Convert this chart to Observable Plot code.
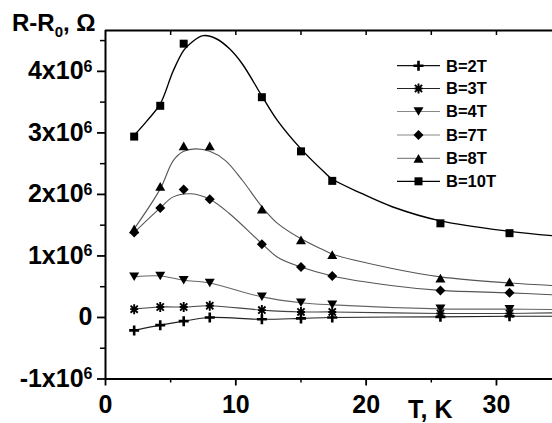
<!DOCTYPE html>
<html><head><meta charset="utf-8">
<script src="https://cdn.jsdelivr.net/npm/d3@7"></script>
<script src="https://cdn.jsdelivr.net/npm/@observablehq/plot@0.6"></script>
<style>
html,body{margin:0;padding:0;background:#fff;}
#chart{width:552px;height:423px;overflow:hidden;}
</style></head><body><div id="chart"></div>
<script>
// ---- data (resistance in units of 10^6 Ω) ----
const temps   = [2.2, 4.2, 6, 8, 12, 15, 17.4, 25.7, 31];
const temps10 = [2.2, 4.2, 6, 12, 15, 17.4, 25.7, 31];
const b2  = [-0.21, -0.125, -0.06, 0, -0.03, -0.015, 0, 0.01, 0.02];
const b3  = [0.135, 0.17, 0.17, 0.19, 0.12, 0.09, 0.09, 0.065, 0.065];
const b4  = [0.66, 0.675, 0.605, 0.56, 0.335, 0.24, 0.205, 0.14, 0.135];
const b7  = [1.38, 1.78, 2.08, 1.92, 1.19, 0.82, 0.675, 0.44, 0.40];
const b8  = [1.44, 2.13, 2.79, 2.79, 1.76, 1.26, 1.02, 0.64, 0.58];
const b10 = [2.94, 3.44, 4.45, 3.58, 2.70, 2.22, 1.53, 1.37];

// smooth fitted curves
const fitT10 = [2.2, 3.2, 4.2, 5.2, 6, 6.6, 7.5, 8.5, 9.5, 10.5, 12, 13.2, 15, 16.8, 17.4, 19.6, 22, 25.7, 31, 34.3];
const fit10  = [2.96, 3.2, 3.47, 4.01, 4.34, 4.47, 4.58, 4.53, 4.37, 4.12, 3.6, 3.2, 2.74, 2.36, 2.25, 2.02, 1.8, 1.57, 1.40, 1.33];
const fitT8  = [2.2, 4.2, 5.2, 6, 6.9, 8, 9.2, 10.5, 12, 13.2, 15, 16.8, 17.4, 21.9, 25.7, 31, 34.3];
const fit8   = [1.44, 2.09, 2.55, 2.70, 2.74, 2.70, 2.55, 2.23, 1.80, 1.53, 1.28, 1.09, 1.03, 0.80, 0.66, 0.56, 0.52];
const fitT7  = [2.2, 4.2, 5.2, 6.6, 8, 9.5, 12, 13.2, 15, 17.4, 21.9, 25.7, 31, 34.3];
const fit7   = [1.38, 1.78, 1.96, 2.01, 1.92, 1.69, 1.2, 0.98, 0.82, 0.675, 0.52, 0.44, 0.40, 0.37];
const lowEndT = 34.3;
const lowEnd  = [0.02, 0.075, 0.13]; // B=2,3,4 curve values at right edge

const labels = ["B=2T", "B=3T", "B=4T", "B=7T", "B=8T", "B=10T"];
const xTicks = [0, 10, 20, 30];
const xMinor = [5, 15, 25];
const xTop   = [5, 10, 15, 20, 25, 30];
const yTicks = [-1, 0, 1, 2, 3, 4];
const yMinor = [-0.5, 0.5, 1.5, 2.5, 3.5, 4.5];
const M = 1e6;

// ---- symbols ----
const rad = s => Math.sqrt(s / Math.PI);
const SYM = {
  plus: {draw(c, s){const r = rad(s); c.moveTo(-r,0); c.lineTo(r,0); c.moveTo(0,-r); c.lineTo(0,r);}},
  star: {draw(c, s){const r = rad(s), d = r*0.72; c.moveTo(0,-r); c.lineTo(0,r); c.moveTo(-r*0.8,0); c.lineTo(r*0.8,0);
                    c.moveTo(-d,-d); c.lineTo(d,d); c.moveTo(-d,d); c.lineTo(d,-d);}},
  tdown: {draw(c, s){const r = rad(s); c.moveTo(-r,-0.85*r); c.lineTo(r,-0.85*r); c.lineTo(0,0.85*r); c.closePath();}},
  diamond: {draw(c, s){const r = rad(s); c.moveTo(0,-r); c.lineTo(r,0); c.lineTo(0,r); c.lineTo(-r,0); c.closePath();}},
  tup: {draw(c, s){const r = rad(s); c.moveTo(0,-0.87*r); c.lineTo(r,0.87*r); c.lineTo(-r,0.87*r); c.closePath();}},
  square: {draw(c, s){const h = rad(s)*0.8; c.moveTo(-h,-h); c.lineTo(h,-h); c.lineTo(h,h); c.lineTo(-h,h); c.closePath();}}
};

const rows = (ts, vs) => ts.map((t, i) => ({T: t, v: vs[i] * M}));
const series = [
  {vals: b2,  ts: temps,   sym: SYM.plus,    stroke: true, sw: 2.6, line: "#222", leg: "#111", curve: rows([...temps, lowEndT], [...b2, lowEnd[0]])},
  {vals: b3,  ts: temps,   sym: SYM.star,    stroke: true, sw: 1.9, line: "#444", leg: "#222", curve: rows([...temps, lowEndT], [...b3, lowEnd[1]])},
  {vals: b4,  ts: temps,   sym: SYM.tdown,   line: "#666", leg: "#888", curve: rows([...temps, lowEndT], [...b4, lowEnd[2]])},
  {vals: b7,  ts: temps,   sym: SYM.diamond, line: "#555", leg: "#888", curve: rows(fitT7, fit7)},
  {vals: b8,  ts: temps,   sym: SYM.tup,     line: "#555", leg: "#888", curve: rows(fitT8, fit8)},
  {vals: b10, ts: temps10, sym: SYM.square,  line: "#000", leg: "#000", curve: rows(fitT10, fit10)}
];

const marks = [];
series.forEach((s, i) => {
  marks.push(Plot.line(s.curve, {x: "T", y: "v", curve: "catmull-rom", stroke: s.line, strokeWidth: i === 5 ? 1.4 : 1.1}));
});
series.forEach(s => {
  const d = rows(s.ts, s.vals);
  marks.push(s.stroke
    ? Plot.dot(d, {x: "T", y: "v", symbol: s.sym, r: 5, fill: "none", stroke: "#000", strokeWidth: s.sw})
    : Plot.dot(d, {x: "T", y: "v", symbol: s.sym, r: 5, fill: "#000", stroke: "none"}));
});

const plot = Plot.plot({
  width: 552, height: 423,
  marginLeft: 105, marginRight: 0, marginTop: 30, marginBottom: 44.5,
  style: {fontFamily: "'Liberation Sans', Arial, sans-serif", fontWeight: "bold", color: "#000", background: "#fff"},
  x: {domain: [0, 34.3]},
  y: {domain: [-1 * M, 4.664 * M]},
  marks: [
    ...marks,
    Plot.ruleX([0], {stroke: "#000", strokeWidth: 2}),
    Plot.ruleY([-1 * M, 4.664 * M], {stroke: "#000", strokeWidth: 2}),
    Plot.axisY(yTicks.map(d => d * M), {tickSize: 8, tickPadding: 5, strokeWidth: 1.8, fontSize: 25, label: null,
      tickFormat: d => d === 0 ? "0" : `${d / M}x10^6`}),
    Plot.axisY(yMinor.map(d => d * M), {tickSize: 5, strokeWidth: 1.5, tickFormat: () => "", label: null}),
    Plot.axisX(xTicks, {tickSize: 7, tickPadding: 9, strokeWidth: 1.8, fontSize: 25, label: null, tickFormat: d => String(d)}),
    Plot.axisX(xMinor, {tickSize: 4, strokeWidth: 1.5, tickFormat: () => "", label: null}),
    Plot.tickX(xTop, {stroke: "#000", strokeWidth: 1.5, insetBottom: 423 - 44.5 - 30 - 5})
  ]
});
document.getElementById("chart").appendChild(plot);

const svg = d3.select(plot);
// superscripts on y tick labels
svg.selectAll('g[aria-label="y-axis tick label"] text').each(function() {
  const t = this.textContent;
  if (t.includes("^")) {
    const [base, exp] = t.split("^");
    const el = d3.select(this);
    el.text("");
    el.append("tspan").text(base);
    el.append("tspan").attr("dy", "-0.47em").attr("font-size", 16).text(exp);
  }
});

// axis titles
const yt = svg.append("text").attr("x", 12).attr("y", 31).attr("text-anchor", "start")
  .attr("font-size", 24).attr("font-weight", "bold").attr("fill", "#000");
yt.append("tspan").text("R-R");
yt.append("tspan").attr("font-size", 15).attr("dy", 6).text("0");
yt.append("tspan").attr("dy", -6).text(", Ω");
svg.append("text").attr("x", 408).attr("y", 418).attr("text-anchor", "start")
  .attr("font-size", 25).attr("font-weight", "bold").attr("fill", "#000").text("T, K");

// legend
const lg = svg.append("g").attr("text-anchor", "start");
const legY = [65.7, 88.5, 111.5, 135, 158.3, 181.3];
series.forEach((s, i) => {
  const y = legY[i];
  lg.append("line").attr("x1", 397).attr("x2", 440).attr("y1", y).attr("y2", y).attr("stroke", s.leg).attr("stroke-width", 1.2);
  const p = lg.append("path").attr("transform", `translate(418.5,${y})`)
    .attr("d", d3.symbol().type(s.sym).size(Math.PI * 25)());
  if (s.stroke) p.attr("fill", "none").attr("stroke", "#000").attr("stroke-width", s.sw);
  else p.attr("fill", "#000");
  lg.append("text").attr("x", 446).attr("y", y).attr("dy", "0.36em").attr("font-size", 16.5).attr("font-weight", "bold").attr("fill", "#000").text(labels[i]);
});
</script></body></html>
